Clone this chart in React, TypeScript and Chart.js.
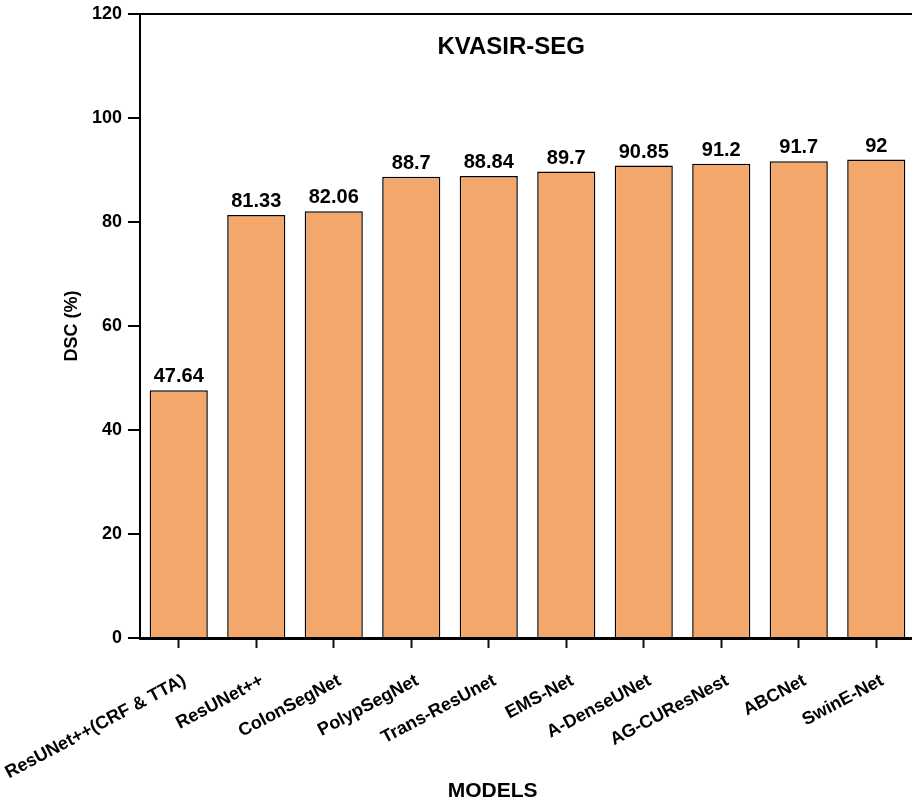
import React, { useEffect, useRef } from "react";
import { Chart, registerables } from "chart.js";

Chart.register(...registerables);

const models = [
  "ResUNet++(CRF & TTA)",
  "ResUNet++",
  "ColonSegNet",
  "PolypSegNet",
  "Trans-ResUnet",
  "EMS-Net",
  "A-DenseUNet",
  "AG-CUResNest",
  "ABCNet",
  "SwinE-Net",
];
const dscValues = [47.64, 81.33, 82.06, 88.7, 88.84, 89.7, 90.85, 91.2, 91.7, 92];
const valueLabels = ["47.64", "81.33", "82.06", "88.7", "88.84", "89.7", "90.85", "91.2", "91.7", "92"];
const chartTitle = "KVASIR-SEG";
const xTitle = "MODELS";
const yTitle = "DSC (%)";

const FONT = "'Liberation Sans', Arial, Helvetica, sans-serif";

export default function App() {
  const ref = useRef<HTMLCanvasElement | null>(null);

  useEffect(() => {
    if (!ref.current) return;

    const valuePlugin = {
      id: "valueLabels",
      afterDatasetsDraw(chart: any) {
        const ctx = chart.ctx;
        const meta = chart.getDatasetMeta(0);
        ctx.save();
        ctx.fillStyle = "#000";
        ctx.font = `bold 20px ${FONT}`;
        ctx.textAlign = "center";
        ctx.textBaseline = "alphabetic";
        meta.data.forEach((bar: any, i: number) => {
          ctx.fillText(valueLabels[i], bar.x, bar.y - 8);
        });
        ctx.restore();
      },
    };

    const textPlugin = {
      id: "extraText",
      afterDraw(chart: any) {
        const { ctx, chartArea } = chart;
        const w = chartArea.right - chartArea.left;
        ctx.save();
        ctx.fillStyle = "#000";
        ctx.textAlign = "center";
        ctx.textBaseline = "middle";
        ctx.font = `bold 24px ${FONT}`;
        ctx.fillText(chartTitle, chartArea.left + w * 0.479, chartArea.top + 33);
        ctx.font = `bold 21px ${FONT}`;
        ctx.fillText(xTitle, chartArea.left + w * 0.455, chart.height - 10);
        ctx.restore();
      },
    };

    const chart = new Chart(ref.current, {
      type: "bar",
      data: {
        labels: models,
        datasets: [
          {
            data: dscValues,
            backgroundColor: "#F3A76A",
            borderColor: "#000",
            borderWidth: 1.5,
            barPercentage: 0.75,
            categoryPercentage: 1,
          },
        ],
      },
      options: {
        responsive: false,
        animation: false,
        layout: { padding: { top: 14, right: 5, left: 0, bottom: 0 } },
        plugins: {
          legend: { display: false },
          tooltip: { enabled: false },
          title: { display: false },
        },
        scales: {
          x: {
            offset: true,
            afterFit(scale: any) {
              scale.height = 163;
              scale.paddingLeft = 0;
              scale.paddingRight = 0;
            },
            grid: {
              offset: false,
              drawOnChartArea: false,
              drawTicks: true,
              tickLength: 10,
              tickWidth: 2,
              tickColor: "#111",
              color: "#111",
            },
            border: { display: true, color: "#000", width: 3 },
            ticks: {
              color: "#000",
              font: { family: FONT, size: 18, weight: "bold" },
              minRotation: 28,
              maxRotation: 28,
              padding: 22,
              labelOffset: 6,
              autoSkip: false,
            },
            title: { display: false },
          },
          y: {
            min: 0,
            max: 120,
            afterFit(scale: any) {
              scale.width = 140;
              scale.paddingTop = 0;
              scale.paddingBottom = 0;
            },
            ticks: {
              stepSize: 20,
              color: "#000",
              font: { family: FONT, size: 18, weight: "bold" },
              padding: 6,
            },
            grid: {
              drawOnChartArea: true,
              tickLength: 12,
              tickWidth: 2,
              tickColor: "#000",
              lineWidth: 2,
              color: (c: any) => (c.tick && c.tick.value === 120 ? "#000" : "rgba(0,0,0,0)"),
            },
            border: { display: true, color: "#000", width: 2 },
            title: {
              display: true,
              text: yTitle,
              color: "#000",
              font: { family: FONT, size: 18, weight: "bold", lineHeight: 1 },
              padding: { top: 63, bottom: 0 },
            },
          },
        },
      },
      plugins: [valuePlugin, textPlugin],
    });

    return () => chart.destroy();
  }, []);

  return (
    <div style={{ position: "absolute", left: 0, top: 0, width: 912, height: 801, overflow: "hidden", background: "#fff" }}>
      <canvas ref={ref} width={920} height={801} style={{ display: "block" }} />
    </div>
  );
}
